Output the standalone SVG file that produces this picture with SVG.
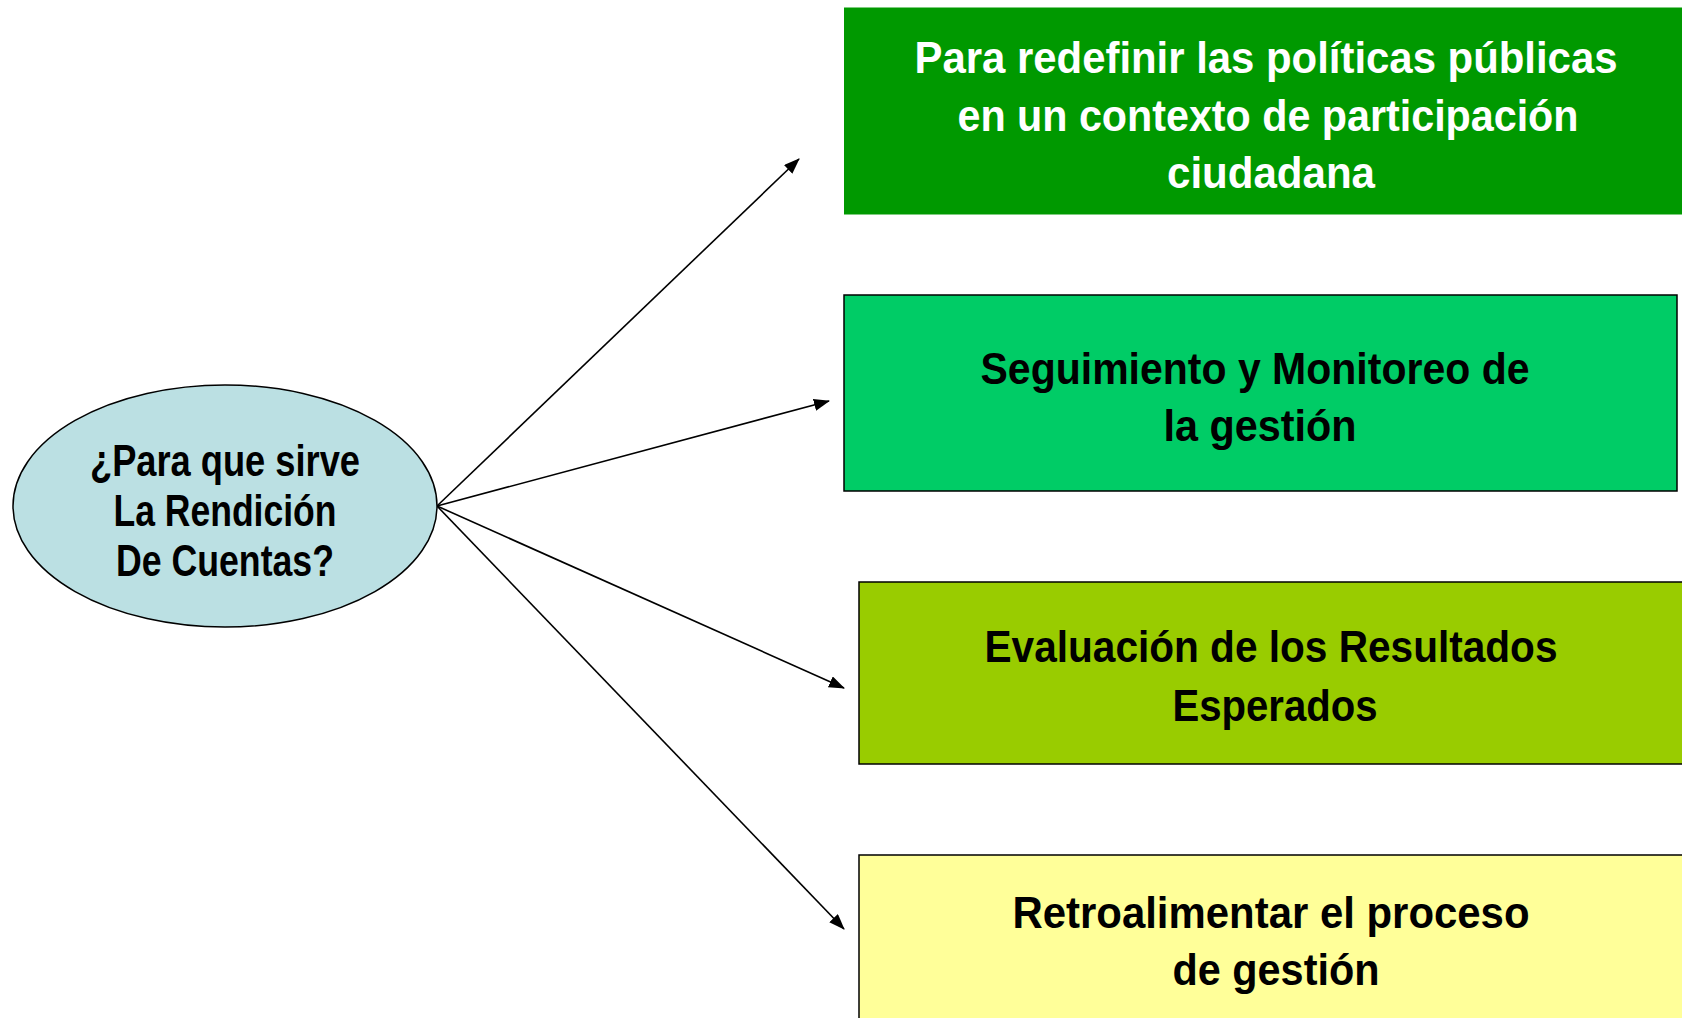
<svg xmlns="http://www.w3.org/2000/svg" width="1682" height="1018" viewBox="0 0 1682 1018">
<style>
.t{font-family:"Liberation Sans",Arial,sans-serif;font-weight:bold;font-size:44px;text-anchor:middle;fill:#000}
.w{fill:#fff}
.c{stroke:#000;stroke-width:1.6;fill:none}
</style>
<defs>
<marker id="ah" markerWidth="16" markerHeight="12" refX="15" refY="6" orient="auto" markerUnits="userSpaceOnUse">
<path d="M0,0 L16,6 L0,12 Z" fill="#000"/>
</marker>
</defs>
<rect width="1682" height="1018" fill="#fff"/>
<g id="connectors">
<line class="c" x1="437" y1="506" x2="799" y2="159" marker-end="url(#ah)"/>
<line class="c" x1="437" y1="506" x2="829" y2="401" marker-end="url(#ah)"/>
<line class="c" x1="437" y1="506" x2="844" y2="688" marker-end="url(#ah)"/>
<line class="c" x1="437" y1="506" x2="844" y2="929" marker-end="url(#ah)"/>
</g>
<g id="center">
<ellipse cx="225" cy="506" rx="212" ry="121" fill="#BBE0E3" stroke="#000" stroke-width="1.5"/>
<text class="t" x="225" y="476" textLength="270" lengthAdjust="spacingAndGlyphs">¿Para que sirve</text>
<text class="t" x="225" y="526" textLength="223" lengthAdjust="spacingAndGlyphs">La Rendición</text>
<text class="t" x="225" y="576" textLength="218" lengthAdjust="spacingAndGlyphs">De Cuentas?</text>
</g>
<g id="box1">
<rect x="844" y="7.5" width="840" height="207" fill="#009900"/>
<text class="t w" x="1266" y="73" textLength="703" lengthAdjust="spacingAndGlyphs">Para redefinir las políticas públicas</text>
<text class="t w" x="1268" y="131" textLength="621" lengthAdjust="spacingAndGlyphs">en un contexto de participación</text>
<text class="t w" x="1271" y="188" textLength="208" lengthAdjust="spacingAndGlyphs">ciudadana</text>
</g>
<g id="box2">
<rect x="844" y="295" width="833" height="196" fill="#00CC66" stroke="#000" stroke-width="1.5"/>
<text class="t" x="1255" y="384" textLength="549" lengthAdjust="spacingAndGlyphs">Seguimiento y Monitoreo de</text>
<text class="t" x="1260" y="441" textLength="193" lengthAdjust="spacingAndGlyphs">la gestión</text>
</g>
<g id="box3">
<rect x="859" y="582" width="830" height="182" fill="#99CC00" stroke="#000" stroke-width="1.5"/>
<text class="t" x="1271" y="662" textLength="573" lengthAdjust="spacingAndGlyphs">Evaluación de los Resultados</text>
<text class="t" x="1275" y="721" textLength="205" lengthAdjust="spacingAndGlyphs">Esperados</text>
</g>
<g id="box4">
<rect x="859" y="855" width="830" height="170" fill="#FFFF99" stroke="#000" stroke-width="1.5"/>
<text class="t" x="1271" y="928" textLength="517" lengthAdjust="spacingAndGlyphs">Retroalimentar el proceso</text>
<text class="t" x="1276" y="985" textLength="207" lengthAdjust="spacingAndGlyphs">de gestión</text>
</g>
</svg>
